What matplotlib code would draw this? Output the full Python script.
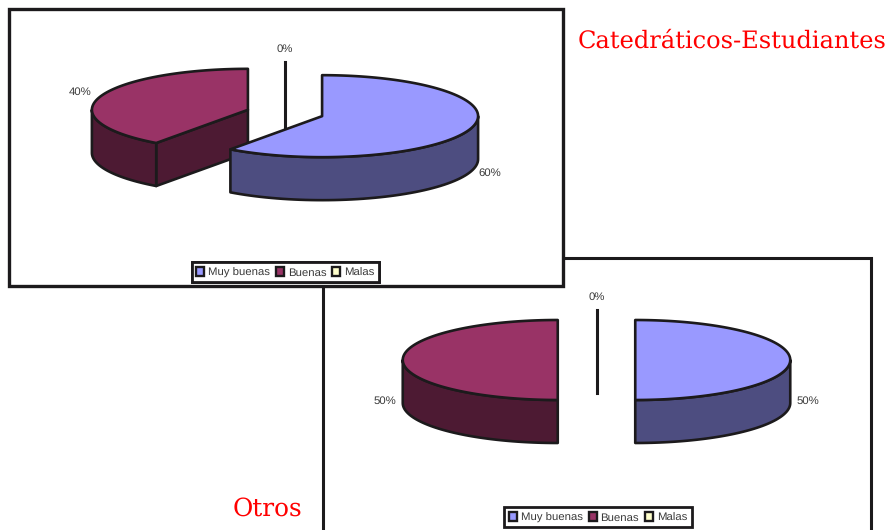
import numpy as np
import matplotlib
matplotlib.use('Agg')
import matplotlib.pyplot as plt
from matplotlib.patches import Patch, Rectangle

# datos
categorias = ['Muy buenas', 'Buenas', 'Malas']
valores_cat = [60, 40, 0]
valores_otros = [50, 50, 0]
titulo_cat = 'Catedráticos-Estudiantes'
titulo_otros = 'Otros'

color_top = ['#9999ff', '#993366', '#ffffcc']
color_side = ['#4d4d80', '#4d1a33', '#808066']
color_borde = '#1c1a1c'
color_texto = '#3a3a3a'

plt.rcParams['font.family'] = ['Liberation Sans', 'DejaVu Sans']
plt.rcParams['text.hinting'] = 'no_hinting'

fig = plt.figure(figsize=(8.88, 5.30), dpi=100)
ax = fig.add_axes([0, 0, 1, 1])
ax.set_xlim(0, 888)
ax.set_ylim(530, 0)
ax.axis('off')


def punto(cx, cy, rx, ry, ang):
    # angulo en grados, desde arriba y en sentido horario
    t = np.radians(ang)
    return cx + rx * np.sin(t), cy - ry * np.cos(t)


def pastel(cx, cy, rx, ry, prof, valores, etiquetas_pos, z):
    total = sum(valores)
    angs = np.cumsum([0] + valores) * 360.0 / total
    estilo = dict(edgecolor=color_borde, lw=1.9, joinstyle='round', zorder=z)
    # se dibuja de atras hacia adelante
    for i in reversed(range(len(valores))):
        a, b = angs[i], angs[i + 1]
        mid = (a + b) / 2
        x0, y0 = punto(cx, cy, rx * 0.25, ry * 0.25, mid)
        if valores[i] == 0:
            xt, yt = punto(x0, y0, rx, ry, a)
            ax.plot([xt, xt], [yt, y0 + prof], color=color_borde, lw=2.2, zorder=z)
            continue
        # caras radiales visibles
        if np.sin(np.radians(a)) < -1e-9:
            xa, ya = punto(x0, y0, rx, ry, a)
            ax.fill([x0, xa, xa, x0], [y0, ya, ya + prof, y0 + prof], facecolor=color_side[i], **estilo)
        if np.sin(np.radians(b)) > 1e-9:
            xb, yb = punto(x0, y0, rx, ry, b)
            ax.fill([x0, xb, xb, x0], [y0, yb, yb + prof, y0 + prof], facecolor=color_side[i], **estilo)
        # lado curvo, solo la mitad de adelante
        a1, b1 = max(a, 90), min(b, 270)
        if b1 > a1:
            t = np.linspace(a1, b1, 60)
            xs, ys = punto(x0, y0, rx, ry, t)
            ax.fill(np.r_[xs, xs[::-1]], np.r_[ys, ys[::-1] + prof], facecolor=color_side[i], **estilo)
        # tapa
        t = np.linspace(a, b, 120)
        xs, ys = punto(x0, y0, rx, ry, t)
        ax.fill(np.r_[x0, xs], np.r_[y0, ys], facecolor=color_top[i], **estilo)
    for v, (xl, yl) in zip(valores, etiquetas_pos):
        ax.text(xl, yl, '%d%%' % v, ha='center', va='center', fontsize=8.2, color=color_texto, zorder=z)


def leyenda(xc, yc):
    handles = [Patch(facecolor=c, edgecolor=color_borde, lw=1.7) for c in color_top]
    leg = ax.legend(handles, categorias, loc='center', bbox_to_anchor=(xc, yc), bbox_transform=ax.transData,
                    ncols=3, fontsize=8.2, fancybox=False, framealpha=1, edgecolor=color_borde,
                    handlelength=0.7, handleheight=0.8, handletextpad=0.35, columnspacing=0.5,
                    borderpad=0.42, borderaxespad=0, labelcolor=color_texto)
    leg.get_frame().set_linewidth(2.0)
    leg.set_zorder(5)
    ax.add_artist(leg)


# marco de abajo (Otros), se corta en el borde de la figura
ax.add_patch(Rectangle((323, 258), 548, 320, facecolor='white', edgecolor=color_borde, lw=2.2, zorder=1))
pastel(596.5, 360, 155, 40, 43, valores_otros, [(808, 401), (385, 401), (597, 297)], 2)
leyenda(598, 517.4)

# marco de arriba (Catedraticos)
ax.add_patch(Rectangle((9, 9), 554, 277, facecolor='white', edgecolor=color_borde, lw=2.4, zorder=3))
pastel(285, 113, 156, 41, 43, valores_cat, [(490, 173), (80, 92), (285, 49)], 4)
leyenda(285.5, 272.4)

ax.text(578, 41, titulo_cat, family='DejaVu Serif', fontsize=17.4, color='#ff0000', ha='left', va='center')
ax.text(233, 509, titulo_otros, family='DejaVu Serif', fontsize=17.8, color='#ff0000', ha='left', va='center')

fig.savefig('out.png', dpi=100)
